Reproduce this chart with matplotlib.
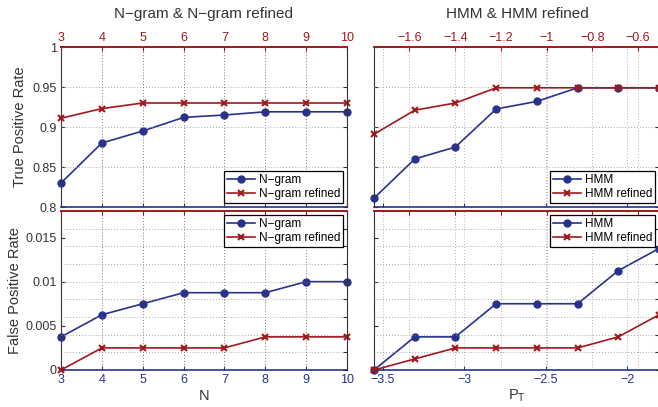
import matplotlib.pyplot as plt
from matplotlib.ticker import FuncFormatter

plt.rcParams['font.family'] = ['Liberation Sans', 'DejaVu Sans']

# цвета в стиле MATLAB plotyy
blue = '#28328c'
red = '#a0191e'
dark = '#333333'
MINUS = '\u2212'

# ---- данные: N-gram ----
n_vals = [3, 4, 5, 6, 7, 8, 9, 10]
ngram_tpr = [0.830, 0.880, 0.895, 0.912, 0.915, 0.919, 0.919, 0.919]
ngram_ref_tpr = [0.911, 0.923, 0.930, 0.930, 0.930, 0.930, 0.930, 0.930]
ngram_fpr = [0.00375, 0.00625, 0.0075, 0.00875, 0.00875, 0.00875, 0.01, 0.01]
ngram_ref_fpr = [0, 0.0025, 0.0025, 0.0025, 0.0025, 0.00375, 0.00375, 0.00375]

# ---- данные: HMM ----
pt_vals = [-3.555, -3.305, -3.055, -2.805, -2.555, -2.305, -2.055, -1.805]
pt_ref_vals = [-1.755, -1.577, -1.399, -1.221, -1.043, -0.865, -0.687, -0.509]
hmm_tpr = [0.811, 0.860, 0.875, 0.9225, 0.932, 0.949, 0.949, 0.949]
hmm_ref_tpr = [0.891, 0.921, 0.930, 0.949, 0.949, 0.949, 0.949, 0.949]
hmm_fpr = [0, 0.00375, 0.00375, 0.0075, 0.0075, 0.0075, 0.01125, 0.01375]
hmm_ref_fpr = [0, 0.00125, 0.0025, 0.0025, 0.0025, 0.0025, 0.00375, 0.00625]

W, H = 658, 407
fig = plt.figure(figsize=(W / 100, H / 100), dpi=100)

fmt = FuncFormatter(lambda v, p: ('%g' % round(v, 6)).replace('-', MINUS))


def panel(px, top, bottom, x1, y1, x2, y2, names, top_row, left_col,
          xt1, xt2):
    pos = [px[0] / W, (H - bottom) / H, (px[1] - px[0]) / W, (bottom - top) / H]
    ax = fig.add_axes(pos)
    ax2 = fig.add_axes(pos)
    ax2.patch.set_visible(False)

    l1, = ax.plot(x1, y1, '-o', color=blue, lw=1.2, ms=5, clip_on=False,
                  label=names[0])
    l2, = ax2.plot(x2, y2, '-x', color=red, lw=1.2, ms=4, mew=1.5,
                   clip_on=False, label=names[1])

    if top_row:
        ylim = (0.8, 1.0)
        yt1 = [0.8, 0.85, 0.9, 0.95, 1.0]
        yl1 = ['0.8', '0.85', '0.9', '0.95', '1']
        yt2 = yt1
    else:
        ylim = (0, 0.018)
        yt1 = [0, 0.005, 0.01, 0.015]
        yl1 = ['0', '0.005', '0.01', '0.015']
        yt2 = [i * 0.002 for i in range(10)]

    ax.set_xlim(x1[0], x1[-1])
    ax2.set_xlim(x2[0], x2[-1])
    ax.set_ylim(*ylim)
    ax2.set_ylim(*ylim)

    ax.set_xticks(xt1)
    ax2.set_xticks(xt2)
    ax.xaxis.set_major_formatter(fmt)
    ax2.xaxis.set_major_formatter(fmt)
    ax.set_yticks(yt1)
    ax.set_yticklabels(yl1)
    ax2.set_yticks(yt2)

    ax2.xaxis.tick_top()
    ax2.yaxis.tick_right()

    ax.tick_params(direction='in', length=3, labelsize=9)
    ax2.tick_params(direction='in', length=3, labelsize=9)
    ax.tick_params(axis='x', colors=blue, labelbottom=not top_row, pad=3)
    ax.tick_params(axis='y', colors=dark, labelleft=left_col, pad=3)
    ax2.tick_params(axis='x', colors=red, labeltop=top_row, pad=2)
    ax2.tick_params(axis='y', colors=dark, labelright=False)

    # рамка
    ax.spines['top'].set_visible(False)
    ax.spines['right'].set_visible(False)
    ax.spines['bottom'].set_color(blue)
    ax.spines['bottom'].set_linewidth(1.2)
    ax.spines['left'].set_color(dark)
    ax2.spines['left'].set_visible(False)
    ax2.spines['bottom'].set_visible(False)
    ax2.spines['top'].set_color(red)
    ax2.spines['top'].set_linewidth(1.4)
    ax2.spines['right'].set_color(dark)

    # сетка
    ax.grid(axis='x', color=blue, ls=(0, (1, 2.5)), lw=0.6, alpha=0.5)
    ax2.grid(axis='x', color=red, ls=(0, (1, 2.5)), lw=0.6, alpha=0.55)
    ax2.grid(axis='y', color='#8c8c8c', ls=(0, (1, 2.5)), lw=0.6)

    leg = ax2.legend([l1, l2], names, loc='lower right' if top_row else 'upper right',
                     fontsize=8.5, fancybox=False, edgecolor='black', framealpha=1,
                     borderaxespad=0.35, borderpad=0.25, labelspacing=0.15,
                     handlelength=2.4, handletextpad=0.3)
    leg.get_frame().set_linewidth(0.9)
    return ax, ax2


ng_names = ['N' + MINUS + 'gram', 'N' + MINUS + 'gram refined']
hmm_names = ['HMM', 'HMM refined']

ax, _ = panel((61, 347), 47, 207, n_vals, ngram_tpr, n_vals, ngram_ref_tpr,
              ng_names, True, True, n_vals, n_vals)
ax.set_ylabel('True Positive Rate', fontsize=10.5, color=dark)
ax.yaxis.set_label_coords(-0.119, 0.5)

ax, _ = panel((61, 347), 211, 370, n_vals, ngram_fpr, n_vals, ngram_ref_fpr,
              ng_names, False, True, n_vals, n_vals)
ax.set_ylabel('False Positive Rate', fontsize=10.5, color=dark)
ax.yaxis.set_label_coords(-0.136, 0.5)

panel((374, 659), 47, 207, pt_vals, hmm_tpr, pt_ref_vals, hmm_ref_tpr,
      hmm_names, True, False, [-3.5, -3, -2.5, -2],
      [-1.6, -1.4, -1.2, -1.0, -0.8, -0.6])
panel((374, 659), 211, 370, pt_vals, hmm_fpr, pt_ref_vals, hmm_ref_fpr,
      hmm_names, False, False, [-3.5, -3, -2.5, -2],
      [-1.6, -1.4, -1.2, -1.0, -0.8, -0.6])

# заголовки и подписи осей
fig.text(204 / W, 1 - 14 / H, 'N' + MINUS + 'gram & N' + MINUS + 'gram refined',
         ha='center', va='center', fontsize=11, color=dark)
fig.text(517 / W, 1 - 14 / H, 'HMM & HMM refined',
         ha='center', va='center', fontsize=11, color=dark)
fig.text(204 / W, 1 - 396 / H, 'N', ha='center', va='center', fontsize=10.5,
         color=dark)
fig.text(517 / W, 1 - 396 / H, r'P$_\mathregular{T}$', ha='center', va='center',
         fontsize=10.5, color=dark)

fig.savefig('out.png', dpi=100)
